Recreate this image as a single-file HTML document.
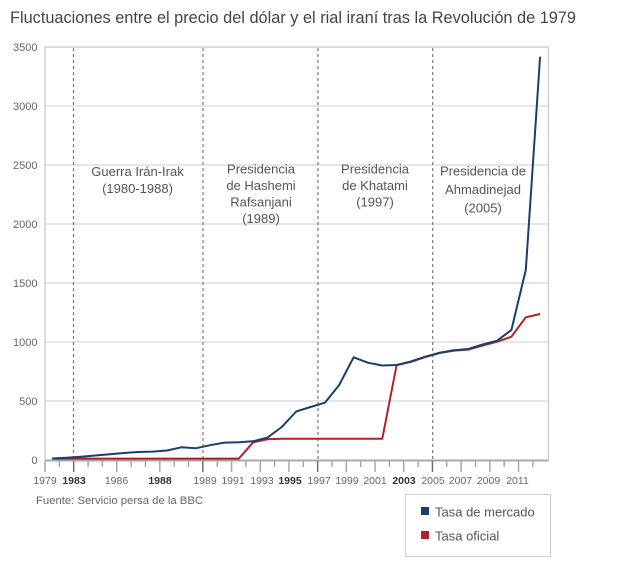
<!DOCTYPE html>
<html>
<head>
<meta charset="utf-8">
<style>
  html, body { margin: 0; padding: 0; background: #ffffff; }
  svg { display: block; }
  text { font-family: "Liberation Sans", Arial, sans-serif; }
</style>
</head>
<body>
<svg width="640" height="566" viewBox="0 0 640 566" xmlns="http://www.w3.org/2000/svg">
  <rect x="0" y="0" width="640" height="566" fill="#ffffff"/>

  <!-- Title -->
  <text x="10" y="23" font-size="16.3" fill="#444" textLength="566" lengthAdjust="spacingAndGlyphs">Fluctuaciones entre el precio del dólar y el rial iraní tras la Revolución de 1979</text>

  <!-- Gridlines -->
  <g stroke="#d6d6d6" stroke-width="1.3">
    <line x1="45" y1="401" x2="548.5" y2="401"/>
    <line x1="45" y1="342" x2="548.5" y2="342"/>
    <line x1="45" y1="283" x2="548.5" y2="283"/>
    <line x1="45" y1="224" x2="548.5" y2="224"/>
    <line x1="45" y1="165" x2="548.5" y2="165"/>
    <line x1="45" y1="106" x2="548.5" y2="106"/>
  </g>
  <!-- Frame -->
  <g stroke="#d0d0d0" stroke-width="1.5" fill="none">
    <line x1="45" y1="47" x2="548.5" y2="47"/>
    <line x1="45" y1="47" x2="45" y2="460"/>
    <line x1="548.5" y1="47" x2="548.5" y2="460"/>
  </g>

  <!-- Y labels -->
  <g font-size="11" fill="#666" text-anchor="end">
    <text x="37.5" y="51">3500</text>
    <text x="37.5" y="110">3000</text>
    <text x="37.5" y="169">2500</text>
    <text x="37.5" y="228">2000</text>
    <text x="37.5" y="287">1500</text>
    <text x="37.5" y="346">1000</text>
    <text x="37.5" y="405">500</text>
    <text x="37.5" y="464">0</text>
  </g>

  <!-- Dashed period lines -->
  <g stroke="#777" stroke-width="1.2" stroke-dasharray="3,3">
    <line x1="73.5" y1="48" x2="73.5" y2="460"/>
    <line x1="203" y1="48" x2="203" y2="460"/>
    <line x1="318" y1="48" x2="318" y2="460"/>
    <line x1="432.7" y1="48" x2="432.7" y2="460"/>
  </g>

  <!-- Annotations -->
  <g font-size="13" fill="#555" text-anchor="middle">
    <text x="137.5" y="176">Guerra Irán-Irak</text>
    <text x="137.5" y="193">(1980-1988)</text>

    <text x="261" y="173.5">Presidencia</text>
    <text x="261" y="190">de Hashemi</text>
    <text x="261" y="206.5">Rafsanjani</text>
    <text x="261" y="223">(1989)</text>

    <text x="375" y="173.5">Presidencia</text>
    <text x="375" y="190">de Khatami</text>
    <text x="375" y="206.5">(1997)</text>

    <text x="483" y="175.5">Presidencia de</text>
    <text x="483" y="194">Ahmadinejad</text>
    <text x="483" y="212.5">(2005)</text>
  </g>

  <!-- X axis -->
  <line x1="45" y1="460.5" x2="548.5" y2="460.5" stroke="#a8a8a8" stroke-width="2"/>
  <g stroke="#a8a8a8" stroke-width="1.5">
    <line x1="45" y1="461" x2="45" y2="472"/>
    <line x1="59.35" y1="461" x2="59.35" y2="467"/>
    <line x1="73.7" y1="461" x2="73.7" y2="472" stroke="#6f6f6f"/>
    <line x1="88.05" y1="461" x2="88.05" y2="467"/>
    <line x1="102.4" y1="461" x2="102.4" y2="467"/>
    <line x1="116.75" y1="461" x2="116.75" y2="472"/>
    <line x1="131.1" y1="461" x2="131.1" y2="467"/>
    <line x1="145.45" y1="461" x2="145.45" y2="467"/>
    <line x1="159.8" y1="461" x2="159.8" y2="472"/>
    <line x1="174.15" y1="461" x2="174.15" y2="467"/>
    <line x1="188.5" y1="461" x2="188.5" y2="467"/>
    <line x1="202.85" y1="461" x2="202.85" y2="472" stroke="#6f6f6f"/>
    <line x1="217.2" y1="461" x2="217.2" y2="467"/>
    <line x1="231.55" y1="461" x2="231.55" y2="472"/>
    <line x1="245.9" y1="461" x2="245.9" y2="467"/>
    <line x1="260.25" y1="461" x2="260.25" y2="472"/>
    <line x1="274.6" y1="461" x2="274.6" y2="467"/>
    <line x1="288.95" y1="461" x2="288.95" y2="472"/>
    <line x1="303.3" y1="461" x2="303.3" y2="467"/>
    <line x1="317.65" y1="461" x2="317.65" y2="472" stroke="#6f6f6f"/>
    <line x1="332" y1="461" x2="332" y2="467"/>
    <line x1="346.35" y1="461" x2="346.35" y2="472"/>
    <line x1="360.7" y1="461" x2="360.7" y2="467"/>
    <line x1="375.05" y1="461" x2="375.05" y2="472"/>
    <line x1="389.4" y1="461" x2="389.4" y2="467"/>
    <line x1="403.75" y1="461" x2="403.75" y2="472"/>
    <line x1="418.1" y1="461" x2="418.1" y2="467"/>
    <line x1="432.45" y1="461" x2="432.45" y2="472" stroke="#6f6f6f"/>
    <line x1="446.8" y1="461" x2="446.8" y2="467"/>
    <line x1="461.15" y1="461" x2="461.15" y2="472"/>
    <line x1="475.5" y1="461" x2="475.5" y2="467"/>
    <line x1="489.85" y1="461" x2="489.85" y2="472"/>
    <line x1="504.2" y1="461" x2="504.2" y2="467"/>
    <line x1="518.55" y1="461" x2="518.55" y2="472"/>
    <line x1="532.9" y1="461" x2="532.9" y2="467"/>
  </g>

  <!-- X labels -->
  <g font-size="10.5" fill="#666" text-anchor="middle">
    <text x="45" y="484">1979</text>
    <text x="74" y="484" font-weight="bold" fill="#333">1983</text>
    <text x="116.5" y="484">1986</text>
    <text x="160" y="484" font-weight="bold" fill="#333">1988</text>
    <text x="205" y="484">1989</text>
    <text x="233" y="484">1991</text>
    <text x="262" y="484">1993</text>
    <text x="290" y="484" font-weight="bold" fill="#333">1995</text>
    <text x="319" y="484">1997</text>
    <text x="347" y="484">1999</text>
    <text x="375" y="484">2001</text>
    <text x="404" y="484" font-weight="bold" fill="#333">2003</text>
    <text x="433" y="484">2005</text>
    <text x="460.5" y="484">2007</text>
    <text x="488.5" y="484">2009</text>
    <text x="517.5" y="484">2011</text>
  </g>

  <!-- Series: official rate (red) -->
  <polyline fill="none" stroke="#b0212b" stroke-width="2" stroke-linejoin="round" points="
    52.2,458.6 238.8,458.6 253.1,442.3 267.5,439.3 281.8,438.7 382.3,438.7
    396.6,365.2 411,361.8 425.3,357 439.7,353 454,350.6 468.4,349.6
    482.7,345.5 497.1,341.7 511.4,336.7 525.8,317.3 540.1,314"/>

  <!-- Series: market rate (blue) -->
  <polyline fill="none" stroke="#1c3e6b" stroke-width="2" stroke-linejoin="round" points="
    52.2,458.5 66.5,457.8 80.9,456.8 95.2,455.5 109.6,454.3 123.9,453
    138.3,452 152.6,451.6 167,450.5 181.3,447.3 195.7,448.3 210,445.2
    224.4,442.6 238.8,442.3 253.1,441.3 267.5,437.6 281.8,427 296.2,411.5
    310.5,407 324.9,402.7 339.2,385 353.6,357.3 367.9,362.7 382.3,365.5
    396.6,365 411,361.5 425.3,356.7 439.7,352.7 454,350.2 468.4,349
    482.7,344.5 497.1,340.7 511.4,330 525.8,270 540.1,56.7"/>

  <!-- Source -->
  <text x="36" y="504" font-size="11.3" fill="#666">Fuente: Servicio persa de la BBC</text>

  <!-- Legend -->
  <rect x="406.5" y="495.5" width="145" height="62" fill="#eeeeee" opacity="0.6"/>
  <rect x="405.5" y="494.5" width="145" height="62" fill="#ffffff" stroke="#cfcfcf" stroke-width="1"/>
  <rect x="421" y="507" width="8" height="8" fill="#1c3e6b"/>
  <text x="435" y="516.5" font-size="13" fill="#555">Tasa de mercado</text>
  <rect x="421" y="531" width="8" height="8" fill="#b0212b"/>
  <text x="435" y="540.5" font-size="13" fill="#555">Tasa oficial</text>
</svg>
</body>
</html>
